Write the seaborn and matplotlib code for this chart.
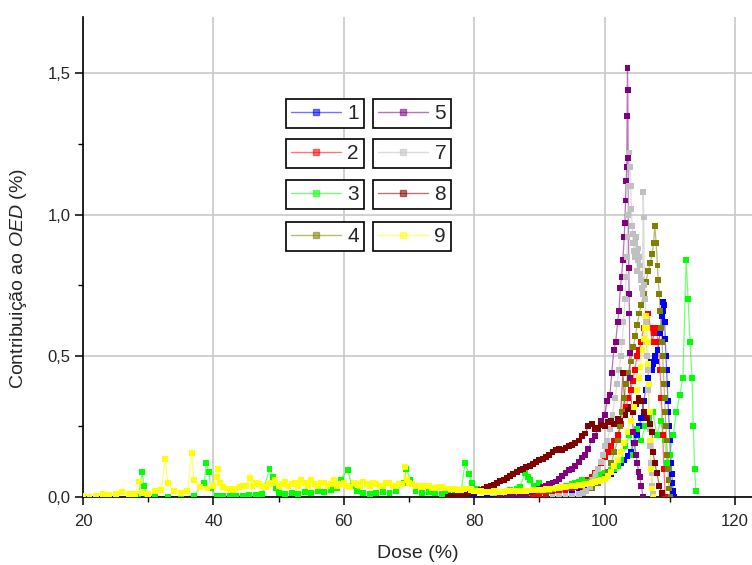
import matplotlib
matplotlib.use("Agg")
import matplotlib.pyplot as plt
from matplotlib.lines import Line2D
import pandas as pd
import seaborn as sns

# ---- data: dose (%) and contribution to OED (%) per structure ----
series_names = ["1", "2", "3", "4", "5", "7", "8", "9"]

dose_1 = [80, 82, 84, 86, 88, 90, 91, 92, 93, 94, 95, 96, 96.5, 97, 97.5, 98, 98.5, 99, 99.5,
          100, 100.5, 101, 101.5, 102, 102.5, 103, 103.5, 104, 104.5, 105, 105.3, 105.6, 106,
          106.3, 106.6, 106.9, 107.1, 107.3, 107.5, 107.7, 107.9, 108.1, 108.3, 108.5, 108.6,
          108.8, 108.9, 109.0, 109.1, 109.2, 109.3, 109.4, 109.5, 109.6, 109.7, 109.8, 109.9,
          110.0, 110.1, 110.2, 110.3, 110.4, 110.5, 110.7]
oed_1 = [0.0, 0.002, 0.004, 0.005, 0.008, 0.01, 0.012, 0.015, 0.017, 0.02, 0.025, 0.03, 0.035,
         0.04, 0.045, 0.05, 0.055, 0.06, 0.065, 0.07, 0.075, 0.08, 0.095, 0.11, 0.12, 0.13,
         0.145, 0.16, 0.19, 0.22, 0.25, 0.28, 0.34, 0.38, 0.42, 0.46, 0.48, 0.45, 0.47, 0.5,
         0.48, 0.52, 0.55, 0.58, 0.6, 0.64, 0.66, 0.69, 0.68, 0.62, 0.56, 0.5, 0.45, 0.4, 0.34,
         0.3, 0.25, 0.2, 0.15, 0.12, 0.08, 0.05, 0.02, 0.0]

dose_2 = [85, 86, 87, 88, 89, 90, 91, 92, 93, 94, 95, 95.5, 96, 96.5, 97, 97.5, 98, 98.5, 99,
          99.5, 100, 100.5, 101, 101.5, 102, 102.5, 103, 103.3, 103.6, 104, 104.3, 104.6, 105,
          105.3, 105.6, 106, 106.4, 106.7, 107, 107.3, 107.6, 107.9, 108.2, 108.5, 108.7, 108.9,
          109.1, 109.3]
oed_2 = [0.0, 0.002, 0.004, 0.005, 0.008, 0.01, 0.012, 0.015, 0.02, 0.025, 0.03, 0.035, 0.04,
         0.048, 0.055, 0.062, 0.07, 0.085, 0.1, 0.12, 0.14, 0.16, 0.18, 0.2, 0.22, 0.26, 0.3,
         0.32, 0.35, 0.38, 0.41, 0.45, 0.5, 0.52, 0.55, 0.6, 0.62, 0.65, 0.6, 0.55, 0.58, 0.6,
         0.55, 0.45, 0.35, 0.22, 0.1, 0.0]

dose_3 = [28.5, 29.1, 29.3, 29.8, 31, 33, 35, 37, 38.6, 38.9, 39.3, 39.6, 40.5, 41.5, 42.5,
          43.5, 44.5, 45.5, 46.5, 47.5, 48.6, 49.2, 49.6, 50, 51, 52, 53, 54, 55, 56, 57, 58,
          59, 59.5, 60.6, 61.2, 62, 63, 64, 65, 66, 67, 68, 69.2, 69.6, 70.2, 71, 72, 73, 74,
          75, 76, 77, 78, 78.6, 79.2, 79.6, 80.4, 81.2, 82, 83, 84, 85, 85.5, 86.5, 87, 87.8,
          88.2, 88.5, 89.2, 90, 90.8, 91.5, 92, 92.5, 93, 93.5, 94, 94.5, 95, 95.5, 96, 96.5,
          97, 97.5, 98, 98.5, 99, 99.5, 100, 100.5, 101, 101.5, 102, 102.5, 103.2, 103.8,
          104.4, 105, 105.6, 106.2, 106.8, 107.4, 108, 108.6, 109.2, 109.6, 110, 110.5, 111,
          111.5, 112, 112.5, 112.8, 113.1, 113.4, 113.6, 113.8, 114]
oed_3 = [0.0, 0.088, 0.04, 0.01, 0.0, 0.0, 0.0, 0.005, 0.05, 0.12, 0.09, 0.03, 0.005, 0.003,
         0.003, 0.004, 0.005, 0.006, 0.008, 0.01, 0.1, 0.07, 0.03, 0.015, 0.012, 0.015, 0.012,
         0.018, 0.015, 0.02, 0.018, 0.025, 0.03, 0.06, 0.096, 0.04, 0.02, 0.015, 0.012, 0.015,
         0.018, 0.015, 0.02, 0.05, 0.1, 0.06, 0.02, 0.015, 0.018, 0.015, 0.012, 0.015, 0.012,
         0.025, 0.12, 0.08, 0.05, 0.03, 0.025, 0.02, 0.022, 0.018, 0.02, 0.025, 0.03, 0.035,
         0.085, 0.07, 0.06, 0.04, 0.05, 0.03, 0.025, 0.028, 0.03, 0.032, 0.035, 0.04, 0.04,
         0.045, 0.05, 0.055, 0.06, 0.05, 0.055, 0.06, 0.07, 0.065, 0.08, 0.085, 0.09, 0.095,
         0.1, 0.11, 0.13, 0.18, 0.22, 0.15, 0.24, 0.2, 0.25, 0.28, 0.3, 0.22, 0.27, 0.2, 0.12,
         0.15, 0.22, 0.3, 0.36, 0.42, 0.84, 0.7, 0.55, 0.42, 0.25, 0.1, 0.02]

dose_4 = [96, 97, 98, 99, 100, 100.5, 101, 101.5, 102, 102.4, 102.7, 103, 103.3, 103.6, 104,
          104.4, 104.7, 105, 105.3, 105.6, 106, 106.3, 106.7, 107, 107.3, 107.5, 107.7, 107.9,
          108.1, 108.2, 108.4, 108.5, 108.7, 108.8, 108.9, 109, 109.1, 109.2, 109.3, 109.4,
          109.5, 109.6, 109.7, 109.8, 109.9, 110.1]
oed_4 = [0.01, 0.02, 0.03, 0.05, 0.07, 0.09, 0.12, 0.16, 0.2, 0.25, 0.3, 0.35, 0.4, 0.44, 0.48,
         0.53, 0.57, 0.61, 0.65, 0.68, 0.72, 0.76, 0.8, 0.83, 0.86, 0.9, 0.96, 0.9, 0.82, 0.77,
         0.72, 0.66, 0.6, 0.55, 0.5, 0.45, 0.4, 0.35, 0.3, 0.25, 0.2, 0.15, 0.1, 0.06, 0.03, 0.0]

dose_5 = [84, 85, 86, 87, 88, 88.5, 89, 89.5, 90, 90.5, 91, 91.5, 92, 92.5, 93, 93.5, 94, 94.5,
          95, 95.5, 96, 96.5, 97, 97.5, 98, 98.5, 99, 99.5, 100, 100.4, 100.8, 101.1, 101.4,
          101.7, 102, 102.2, 102.4, 102.6, 102.8, 103.0, 103.1, 103.2, 103.3, 103.4, 103.45,
          103.5, 103.55, 103.6, 103.7, 103.75, 103.8, 103.85, 103.9, 104.4, 104.6, 104.8, 105.0,
          105.2, 105.4, 105.6, 105.9]
oed_5 = [0.0, 0.003, 0.005, 0.008, 0.012, 0.016, 0.02, 0.025, 0.03, 0.035, 0.04, 0.045, 0.05,
         0.055, 0.065, 0.075, 0.085, 0.095, 0.1, 0.11, 0.125, 0.14, 0.15, 0.17, 0.2, 0.215,
         0.24, 0.27, 0.29, 0.34, 0.36, 0.44, 0.52, 0.55, 0.62, 0.66, 0.74, 0.78, 0.84, 0.92,
         0.97, 1.05, 1.12, 1.17, 1.35, 1.52, 1.44, 1.2, 0.81, 0.72, 0.65, 0.51, 0.42, 0.23,
         0.19, 0.15, 0.12, 0.09, 0.07, 0.04, 0.0]

dose_7 = [92, 93, 94, 95, 96, 96.7, 97.2, 97.7, 98.2, 98.6, 99, 99.4, 99.7, 100.1, 100.4, 100.8,
          101.2, 101.6, 101.9, 102.2, 102.5, 102.7, 102.9, 103.1, 103.3, 103.4, 103.5, 103.6,
          103.7, 103.8, 103.9, 104.0, 104.1, 104.2, 104.3, 104.4, 104.5, 104.6, 104.7, 104.8,
          104.9, 105.0, 105.1, 105.2, 105.3, 105.4, 105.5, 105.6, 105.7, 105.8, 105.9, 106.0,
          106.1, 106.2, 106.3, 106.4, 106.5, 106.6, 106.7, 106.8, 106.9, 107.0, 107.1, 107.2,
          107.3, 107.4]
oed_7 = [0.0, 0.002, 0.003, 0.005, 0.01, 0.014, 0.02, 0.035, 0.06, 0.08, 0.1, 0.125, 0.15,
         0.18, 0.2, 0.24, 0.29, 0.35, 0.4, 0.45, 0.5, 0.55, 0.62, 0.7, 0.78, 0.85, 0.92, 1.0,
         1.1, 1.22, 1.17, 1.1, 1.02, 0.96, 0.93, 0.9, 0.87, 0.85, 0.9, 0.92, 0.86, 0.8, 0.84,
         0.88, 0.85, 0.82, 0.79, 0.77, 0.74, 0.72, 1.08, 0.99, 0.75, 0.7, 0.62, 0.55, 0.5,
         0.45, 0.38, 0.3, 0.24, 0.18, 0.12, 0.085, 0.04, 0.01]

dose_8 = [76, 76.5, 77, 77.5, 78, 78.5, 79, 79.5, 80, 80.5, 81, 81.5, 82, 82.5, 83, 83.5, 84,
          84.5, 85, 85.5, 86, 86.5, 87, 87.5, 88, 88.5, 89, 89.5, 90, 90.5, 91, 91.5, 92, 92.5,
          93, 93.5, 94, 94.5, 95, 95.5, 96, 96.5, 97, 97.5, 98, 98.5, 99, 99.5, 100, 100.5, 101,
          101.5, 102, 102.4, 102.8, 103.2, 103.6, 104, 104.4, 104.8, 105.2, 105.7, 106.1, 106.5,
          106.9, 107.3, 107.4, 107.7, 108, 108.4, 108.8]
oed_8 = [0.0, 0.003, 0.005, 0.007, 0.008, 0.01, 0.013, 0.016, 0.018, 0.022, 0.025, 0.03, 0.036,
         0.04, 0.044, 0.05, 0.056, 0.06, 0.068, 0.075, 0.082, 0.09, 0.096, 0.1, 0.105, 0.11,
         0.118, 0.125, 0.13, 0.135, 0.142, 0.15, 0.158, 0.165, 0.17, 0.167, 0.175, 0.18, 0.185,
         0.19, 0.2, 0.215, 0.225, 0.25, 0.26, 0.24, 0.245, 0.255, 0.25, 0.265, 0.27, 0.26,
         0.275, 0.27, 0.44, 0.29, 0.31, 0.32, 0.3, 0.33, 0.35, 0.34, 0.3, 0.28, 0.26, 0.23,
         0.16, 0.12, 0.085, 0.04, 0.014]

dose_9 = [20, 21, 22, 23, 24, 25, 26, 27, 28, 28.6, 29, 30, 31, 32, 32.6, 33, 34, 35, 36, 36.7,
          37, 38, 39, 40, 40.5, 40.7, 41, 41.5, 42, 42.5, 43, 43.5, 44, 44.5, 45, 45.6, 46, 46.5,
          47, 47.5, 48, 48.5, 49, 49.5, 50, 50.5, 51, 51.5, 52, 52.5, 53, 53.5, 54, 54.5, 55,
          55.5, 56, 56.5, 57, 57.5, 58, 58.5, 59, 59.5, 60, 60.5, 61, 61.5, 62, 62.5, 63, 63.5,
          64, 64.5, 65, 65.5, 66, 66.5, 67, 67.5, 68, 68.5, 69, 69.4, 69.7, 70, 70.5, 71, 71.5,
          72, 72.5, 73, 73.5, 74, 74.5, 75, 75.5, 76, 76.5, 77, 77.5, 78, 78.5, 79, 79.5, 80,
          80.5, 81, 81.5, 82, 82.5, 83, 83.5, 84, 84.5, 85, 85.5, 86, 86.5, 87, 87.5, 88, 88.5,
          89, 89.5, 90, 90.5, 91, 91.5, 92, 92.5, 93, 93.5, 94, 94.5, 95, 95.5, 96, 96.5, 97,
          97.5, 98, 98.5, 99, 99.5, 100, 100.5, 101, 101.5, 102, 102.5, 103, 103.5, 104, 104.5,
          105, 105.3, 105.5, 105.8, 106, 106.2, 106.3, 106.5, 106.6, 106.7, 106.8, 106.9, 107,
          107.1, 107.3, 107.5]
oed_9 = [0.005, 0.0, 0.003, 0.01, 0.008, 0.012, 0.018, 0.01, 0.012, 0.055, 0.015, 0.012, 0.02,
         0.025, 0.135, 0.05, 0.02, 0.015, 0.02, 0.155, 0.06, 0.035, 0.03, 0.04, 0.07, 0.1,
         0.05, 0.035, 0.03, 0.028, 0.025, 0.03, 0.035, 0.04, 0.04, 0.066, 0.04, 0.05, 0.045,
         0.04, 0.035, 0.045, 0.05, 0.06, 0.04, 0.045, 0.055, 0.04, 0.045, 0.05, 0.04, 0.06,
         0.05, 0.04, 0.06, 0.045, 0.04, 0.05, 0.05, 0.04, 0.045, 0.06, 0.04, 0.045, 0.05, 0.04,
         0.035, 0.05, 0.045, 0.04, 0.055, 0.045, 0.04, 0.05, 0.045, 0.04, 0.04, 0.05, 0.05,
         0.04, 0.04, 0.045, 0.045, 0.105, 0.06, 0.05, 0.045, 0.04, 0.04, 0.035, 0.038, 0.04,
         0.032, 0.03, 0.034, 0.035, 0.03, 0.03, 0.028, 0.028, 0.026, 0.025, 0.027, 0.03, 0.025,
         0.022, 0.021, 0.02, 0.019, 0.018, 0.019, 0.02, 0.019, 0.018, 0.019, 0.02, 0.02, 0.02,
         0.021, 0.022, 0.022, 0.022, 0.023, 0.025, 0.025, 0.025, 0.026, 0.027, 0.028, 0.03,
         0.031, 0.032, 0.034, 0.035, 0.037, 0.038, 0.04, 0.042, 0.044, 0.046, 0.048, 0.05,
         0.053, 0.056, 0.06, 0.065, 0.075, 0.09, 0.11, 0.13, 0.16, 0.19, 0.23, 0.27, 0.32, 0.38,
         0.42, 0.46, 0.52, 0.56, 0.6, 0.64, 0.6, 0.55, 0.47, 0.4, 0.3, 0.2, 0.1, 0.03, 0.0]

series_dose = [dose_1, dose_2, dose_3, dose_4, dose_5, dose_7, dose_8, dose_9]
series_oed = [oed_1, oed_2, oed_3, oed_4, oed_5, oed_7, oed_8, oed_9]
series_colors = ["#0000FF", "#FF0000", "#00FF00", "#808000",
                 "#800080", "#C0C0C0", "#800000", "#FFFF00"]

x_ticks = [20, 40, 60, 80, 100, 120]
x_tick_labels = ["20", "40", "60", "80", "100", "120"]
x_minor = [30, 50, 70, 90, 110]
y_ticks = [0.0, 0.5, 1.0, 1.5]
y_tick_labels = ["0,0", "0,5", "1,0", "1,5"]
y_minor = [0.25, 0.75, 1.25]

# ---- long-form table ----
frames = []
for name, d, v in zip(series_names, series_dose, series_oed):
    frames.append(pd.DataFrame({"dose": d, "oed": v, "serie": name}))
df = pd.concat(frames, ignore_index=True)
palette = dict(zip(series_names, series_colors))

sns.set_theme(style="white")
plt.rcParams["font.family"] = ["Liberation Sans", "DejaVu Sans"]
plt.rcParams["mathtext.fontset"] = "custom"
plt.rcParams["mathtext.rm"] = "Liberation Sans"
plt.rcParams["mathtext.it"] = "Liberation Sans:italic"

W, H = 752, 565
fig = plt.figure(figsize=(W / 100, H / 100), dpi=100)
ax = fig.add_axes([83 / W, 68 / H, (W - 83) / W, 480 / H])

# thin connecting lines, then square markers on top
sns.lineplot(data=df, x="dose", y="oed", hue="serie", hue_order=series_names,
             palette=palette, sort=False, estimator=None, linewidth=0.9,
             alpha=0.55, legend=False, ax=ax)
sns.scatterplot(data=df, x="dose", y="oed", hue="serie", hue_order=series_names,
                palette=palette, marker="s", s=18, linewidth=0, legend=False, ax=ax,
                zorder=3)

ax.set_xlim(20, 122.6)
ax.set_ylim(0, 1.70)
ax.set_xticks(x_ticks)
ax.set_xticklabels(x_tick_labels)
ax.set_xticks(x_minor, minor=True)
ax.set_yticks(y_ticks)
ax.set_yticklabels(y_tick_labels)
ax.set_yticks(y_minor, minor=True)

ax.grid(True, which="major", color="#c8c8c8", linewidth=1.2)
ax.set_axisbelow(True)
for side in ["top", "right"]:
    ax.spines[side].set_visible(False)
for side in ["left", "bottom"]:
    ax.spines[side].set_color("black")
    ax.spines[side].set_linewidth(1.2)

ax.tick_params(which="major", direction="out", length=6, width=1.1, color="black",
               labelsize=12, left=True, bottom=True)
ax.tick_params(axis="y", which="major", pad=3)
ax.tick_params(axis="x", which="major", pad=6)
ax.tick_params(which="minor", direction="out", length=3.5, width=1.0, color="black",
               left=True, bottom=True)

ax.set_xlabel("Dose (%)", fontsize=14, labelpad=12)
ax.set_ylabel(r"Contribuição ao $\mathit{OED}$ (%)", fontsize=14)
ax.yaxis.set_label_coords(-0.08, 0.455)

# one boxed legend per structure, two columns
legend_cols = [286, 373]
legend_rows = [99, 139, 180, 222]
for i, (name, col) in enumerate(zip(series_names, series_colors)):
    cx = legend_cols[i // 4]
    cy = legend_rows[i % 4]
    handle = Line2D([], [], color=col, alpha=0.55, linewidth=1.0, marker="s",
                    markersize=5, markerfacecolor=col, markeredgecolor=col)
    leg = fig.legend([handle], [name], loc="upper left",
                     bbox_to_anchor=(cx / W, 1 - cy / H), bbox_transform=fig.transFigure,
                     fontsize=15, frameon=True, fancybox=False, shadow=False,
                     handlelength=2.4, handletextpad=0.3, borderpad=0.25,
                     borderaxespad=0, numpoints=1)
    leg.get_frame().set_edgecolor("black")
    leg.get_frame().set_linewidth(1.2)
    leg.get_frame().set_alpha(1)
    leg.set_zorder(10)

fig.savefig("out.png", dpi=100)
